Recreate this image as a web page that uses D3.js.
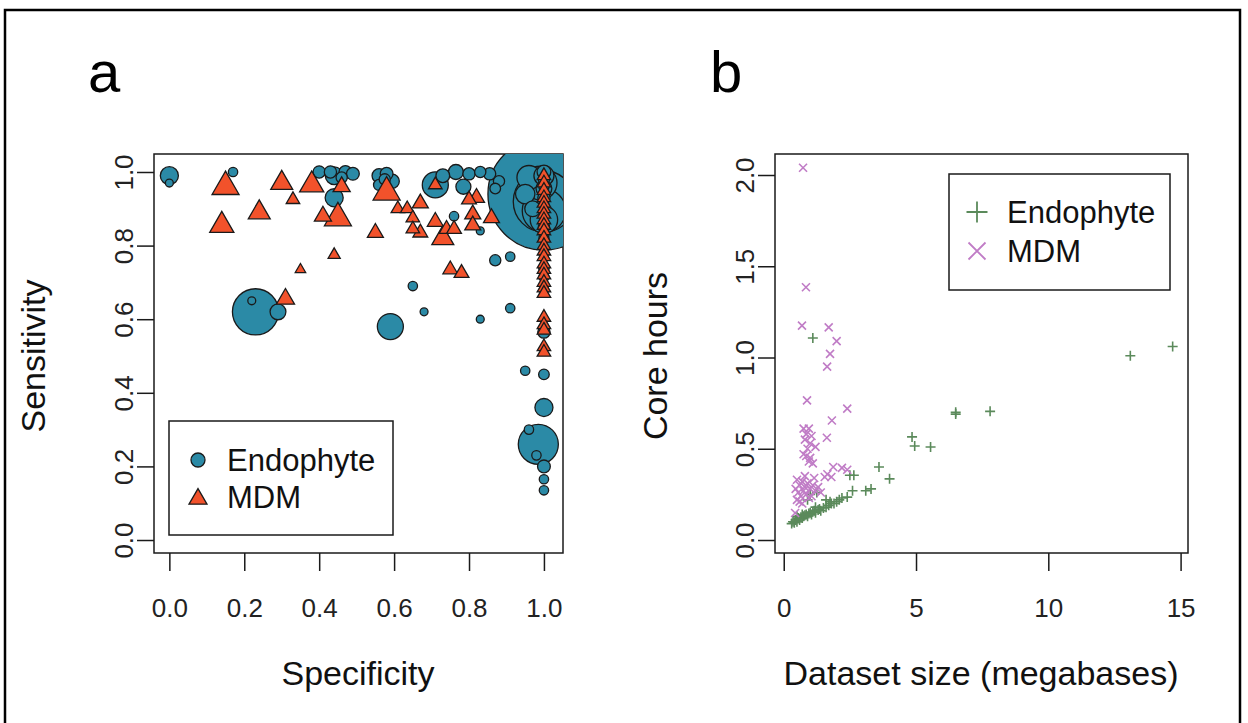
<!DOCTYPE html>
<html>
<head>
<meta charset="utf-8">
<script src="https://cdn.jsdelivr.net/npm/d3@7"></script>
<style>
  body { margin: 0; background: #fff; }
  svg { font-family: "Liberation Sans", Arial, Helvetica, sans-serif; }
</style>
</head>
<body>
<svg id="chart" width="1248" height="723"></svg>
<script>
// panel a: [specificity, sensitivity, weight]
var endoRates = [
  [0.0, 0.99, 2.6], [0.0, 0.97, 0.5], [0.17, 1.0, 0.7],
  [0.40, 1.0, 1.2], [0.43, 1.0, 1.2], [0.44, 0.99, 2.5], [0.47, 1.0, 1.3],
  [0.49, 0.995, 1.3], [0.46, 0.985, 1.0], [0.44, 0.93, 2.6],
  [0.23, 0.62, 17], [0.22, 0.65, 0.5], [0.29, 0.62, 2.0],
  [0.56, 0.99, 1.6], [0.58, 0.995, 1.3], [0.595, 0.975, 1.6], [0.56, 0.965, 1.0], [0.575, 0.98, 1.0],
  [0.71, 0.965, 5.4], [0.73, 0.99, 1.5], [0.765, 1.0, 1.8], [0.785, 0.96, 1.8],
  [0.80, 0.995, 1.2], [0.83, 1.0, 1.0], [0.855, 0.995, 1.2], [0.88, 0.975, 1.0], [0.87, 0.955, 0.9],
  [0.76, 0.88, 0.7], [0.83, 0.84, 0.5], [0.87, 0.76, 1.0], [0.91, 0.77, 0.7],
  [0.65, 0.69, 0.7], [0.68, 0.62, 0.5], [0.59, 0.58, 5.4], [0.83, 0.60, 0.5], [0.91, 0.63, 0.7],
  [0.95, 0.46, 0.7], [1.0, 0.45, 0.9], [1.0, 0.36, 2.6], [0.985, 0.26, 12.8],
  [0.96, 0.30, 0.7], [0.98, 0.23, 0.7], [1.0, 0.20, 1.3], [1.0, 0.165, 0.7], [1.0, 0.135, 0.7],
  [1.0, 0.94, 100], [1.0, 0.92, 30], [1.0, 0.895, 15], [0.99, 0.97, 9], [1.0, 0.87, 6],
  [1.0, 0.99, 3.2], [0.96, 0.985, 4.6], [0.95, 0.94, 3], [1.0, 0.955, 2], [0.97, 0.90, 2],
  [1.0, 1.0, 1.5], [1.0, 0.98, 1.0], [1.0, 0.96, 0.8], [1.0, 0.93, 1.2], [1.0, 0.91, 0.8],
  [1.0, 0.85, 1.0], [1.0, 0.82, 0.8], [1.0, 0.78, 0.7], [1.0, 0.74, 0.9], [1.0, 0.715, 0.8],
  [1.0, 0.68, 0.7], [1.0, 0.565, 1.2]
];
var mdmRates = [
  [0.15, 0.96, 10], [0.14, 0.855, 8], [0.24, 0.89, 6.6], [0.30, 0.97, 6.6],
  [0.33, 0.925, 2.5], [0.38, 0.965, 8], [0.41, 0.88, 4], [0.45, 0.875, 10],
  [0.46, 0.96, 4], [0.44, 0.775, 2], [0.35, 0.735, 1.5], [0.31, 0.655, 4.5],
  [0.58, 0.945, 10], [0.55, 0.835, 3.5], [0.61, 0.90, 2.5], [0.635, 0.90, 2.5],
  [0.67, 0.915, 3.5], [0.65, 0.875, 2.5], [0.65, 0.845, 2.5], [0.67, 0.835, 3],
  [0.71, 0.865, 3.5], [0.74, 0.845, 3], [0.76, 0.845, 3], [0.73, 0.82, 6.6],
  [0.71, 0.965, 2.5], [0.80, 0.925, 3], [0.82, 0.93, 3.5], [0.81, 0.885, 3.5],
  [0.81, 0.855, 3.5], [0.86, 0.875, 3.5], [0.75, 0.735, 3], [0.78, 0.725, 3],
  [1.0, 0.99, 2.5], [1.0, 0.97, 2.5], [1.0, 0.95, 2.5], [1.0, 0.93, 2.5], [1.0, 0.915, 2.5],
  [1.0, 0.90, 2.5], [1.0, 0.885, 2.5], [1.0, 0.87, 2.5], [1.0, 0.855, 2.5], [1.0, 0.84, 2.5],
  [1.0, 0.82, 2.5], [1.0, 0.80, 2.5], [1.0, 0.785, 2.5], [1.0, 0.77, 2.5], [1.0, 0.75, 2.5],
  [1.0, 0.735, 2.5], [1.0, 0.72, 2.5], [1.0, 0.70, 2.5], [1.0, 0.685, 2.5], [1.0, 0.67, 2.5],
  [1.0, 0.605, 2.5], [1.0, 0.585, 2.5], [1.0, 0.57, 2.5], [1.0, 0.525, 2.5], [1.0, 0.51, 2.5]
];

// panel b: [dataset size (Mb), core hours]
var endoHours = [
  [14.7, 1.06], [13.1, 1.01], [7.8, 0.705], [6.5, 0.69], [6.5, 0.70],
  [4.85, 0.565], [4.95, 0.515], [5.55, 0.51], [3.6, 0.40], [4.0, 0.335],
  [2.5, 0.355], [2.65, 0.355], [2.6, 0.27], [3.1, 0.27], [3.3, 0.28], [2.4, 0.235], [1.1, 1.107],
  [0.3, 0.09], [0.35, 0.10], [0.4, 0.095], [0.45, 0.11], [0.5, 0.10], [0.55, 0.12], [0.6, 0.11],
  [0.65, 0.125], [0.7, 0.12], [0.75, 0.13], [0.8, 0.135], [0.85, 0.14], [0.9, 0.13], [0.95, 0.145],
  [1.0, 0.15], [1.05, 0.14], [1.1, 0.155], [1.15, 0.16], [1.2, 0.15], [1.3, 0.165], [1.35, 0.17],
  [1.4, 0.16], [1.5, 0.175], [1.6, 0.18], [1.7, 0.19], [1.8, 0.2], [1.9, 0.2], [2.0, 0.21],
  [2.1, 0.22], [1.25, 0.26], [1.0, 0.25], [0.9, 0.22], [1.6, 0.22], [1.75, 0.21], [2.2, 0.23],
  [0.5, 0.13], [0.7, 0.14], [1.2, 0.18]
];
var mdmHours = [
  [0.73, 2.04], [0.84, 1.385], [0.69, 1.175], [1.7, 1.165], [2.0, 1.09], [1.75, 1.02],
  [1.64, 0.95], [0.88, 0.765], [2.4, 0.72], [1.82, 0.655], [1.63, 0.56],
  [0.75, 0.61], [0.95, 0.61], [0.85, 0.58], [1.05, 0.57], [0.8, 0.55], [1.0, 0.53], [0.9, 0.50],
  [1.2, 0.51], [0.75, 0.47], [0.85, 0.46], [1.0, 0.45], [0.95, 0.43], [1.1, 0.42],
  [1.87, 0.40], [2.2, 0.395], [2.4, 0.385], [1.55, 0.345], [1.8, 0.345], [1.65, 0.36],
  [0.5, 0.33], [0.6, 0.30], [0.7, 0.32], [0.8, 0.29], [0.9, 0.31], [1.0, 0.28], [1.1, 0.30],
  [1.2, 0.27], [1.3, 0.29], [0.55, 0.26], [0.65, 0.24], [0.75, 0.27], [0.85, 0.25], [0.95, 0.23],
  [0.6, 0.21], [0.7, 0.20], [1.05, 0.24], [1.4, 0.26], [0.45, 0.28], [0.5, 0.22], [0.43, 0.148],
  [0.8, 0.35], [1.15, 0.34]
];

var rateTicks = [0, 0.2, 0.4, 0.6, 0.8, 1.0];
var sizeTicks = [0, 5, 10, 15];
var hourTicks = [0, 0.5, 1.0, 1.5, 2.0];
var seriesNames = ["Endophyte", "MDM"];

var blue = "#2b8aa6", red = "#f2522b", green = "#5b8a5b", purple = "#c07cc6", ink = "#1a1a1a";

var svg = d3.select("#chart");

// outer frame
svg.append("rect").attr("x", 5).attr("y", 10).attr("width", 1235).attr("height", 740)
  .attr("fill", "none").attr("stroke", "#000").attr("stroke-width", 2.5);

function frame(g, x, y, xt, yt, xfmt, yfmt) {
  var r = x.range(), b = y.range();
  g.append("rect").attr("x", r[0]).attr("y", b[1]).attr("width", r[1] - r[0]).attr("height", b[0] - b[1])
    .attr("fill", "none").attr("stroke", ink).attr("stroke-width", 1.5);
  var ax = g.append("g").attr("transform", "translate(0," + b[0] + ")")
    .call(d3.axisBottom(x).tickValues(xt).tickSize(18).tickPadding(21).tickFormat(xfmt));
  var ay = g.append("g").attr("transform", "translate(" + r[0] + ",0)")
    .call(d3.axisLeft(y).tickValues(yt).tickSize(17).tickFormat(yfmt));
  [ax, ay].forEach(function(a) {
    a.select(".domain").remove();
    a.selectAll("line").attr("stroke", ink).attr("stroke-width", 1.5);
    a.selectAll("text").attr("fill", "#222").style("font-size", "26px").style("font-family", null);
  });
  ax.selectAll("text").attr("dy", "0.95em");
  ay.selectAll("text").attr("x", null).attr("dy", null)
    .attr("transform", "translate(-21,0) rotate(-90)")
    .attr("text-anchor", "middle");
}

function title(x, y, txt, rot) {
  svg.append("text").attr("transform", "translate(" + x + "," + y + ")" + (rot ? " rotate(-90)" : ""))
    .attr("text-anchor", "middle").style("font-size", "34px").attr("fill", "#111").text(txt);
}

// ---------- panel a ----------
var xa = d3.scaleLinear().domain([-0.041, 1.0509]).range([154, 563]);
var ya = d3.scaleLinear().domain([-0.0353, 1.0489]).range([553, 154]);
var ga = svg.append("g");
frame(ga, xa, ya, rateTicks, rateTicks, d3.format(".1f"), d3.format(".1f"));

var rCircle = d3.scaleSqrt().domain([0, 100]).range([0, 56]);
var hTri = d3.scaleSqrt().domain([0, 10]).range([0, 13.5]);
var tri = function(h) { return d3.symbol(d3.symbolTriangle, Math.sqrt(3) * h * h)(); };

ga.append("clipPath").attr("id", "clipa").append("rect")
  .attr("x", 154).attr("y", 154).attr("width", 409).attr("height", 399);
var pa = ga.append("g").attr("clip-path", "url(#clipa)");

pa.selectAll("circle").data(endoRates.slice().sort(function(a, b) { return b[2] - a[2]; }))
  .enter().append("circle")
  .attr("cx", function(d) { return xa(d[0]); })
  .attr("cy", function(d) { return ya(d[1]); })
  .attr("r", function(d) { return rCircle(d[2]); })
  .attr("fill", blue).attr("stroke", ink).attr("stroke-width", 1.3);

pa.selectAll("path.tri").data(mdmRates.slice().sort(function(a, b) { return b[2] - a[2]; }))
  .enter().append("path").attr("class", "tri")
  .attr("transform", function(d) { return "translate(" + xa(d[0]) + "," + ya(d[1]) + ")"; })
  .attr("d", function(d) { return tri(hTri(d[2])); })
  .attr("fill", red).attr("stroke", ink).attr("stroke-width", 1.3);

// legend a
ga.append("rect").attr("x", 169).attr("y", 421).attr("width", 224).attr("height", 114)
  .attr("fill", "#fff").attr("stroke", ink).attr("stroke-width", 1.5);
ga.append("circle").attr("cx", 198).attr("cy", 460).attr("r", 7)
  .attr("fill", blue).attr("stroke", ink).attr("stroke-width", 1.3);
ga.append("path").attr("transform", "translate(198,499)").attr("d", tri(9))
  .attr("fill", red).attr("stroke", ink).attr("stroke-width", 1.3);
ga.selectAll("text.leg").data(seriesNames).enter().append("text").attr("class", "leg")
  .attr("x", 227).attr("y", function(d, i) { return 471 + i * 37; })
  .style("font-size", "31px").attr("fill", "#111").text(function(d) { return d; });

title(358, 685, "Specificity", false);
title(45, 356, "Sensitivity", true);
svg.append("text").attr("x", 88).attr("y", 92).style("font-size", "58px").text("a");

// ---------- panel b ----------
var xb = d3.scaleLinear().domain([-0.33, 15.28]).range([775, 1188]);
var yb = d3.scaleLinear().domain([-0.0712, 2.1151]).range([553, 154]);
var gb = svg.append("g");
frame(gb, xb, yb, sizeTicks, hourTicks, d3.format("d"), d3.format(".1f"));

var plus = function(h) { return "M" + (-h) + ",0H" + h + "M0," + (-h) + "V" + h; };
var cross = function(h) { return "M" + (-h) + "," + (-h) + "L" + h + "," + h + "M" + (-h) + "," + h + "L" + h + "," + (-h); };

gb.selectAll("path.plus").data(endoHours).enter().append("path").attr("class", "plus")
  .attr("transform", function(d) { return "translate(" + xb(d[0]) + "," + yb(d[1]) + ")"; })
  .attr("d", plus(5)).attr("stroke", green).attr("stroke-width", 1.6).attr("fill", "none");
gb.selectAll("path.cross").data(mdmHours).enter().append("path").attr("class", "cross")
  .attr("transform", function(d) { return "translate(" + xb(d[0]) + "," + yb(d[1]) + ")"; })
  .attr("d", cross(4)).attr("stroke", purple).attr("stroke-width", 1.6).attr("fill", "none");

// legend b
gb.append("rect").attr("x", 949).attr("y", 174).attr("width", 221).attr("height", 116)
  .attr("fill", "#fff").attr("stroke", ink).attr("stroke-width", 1.5);
gb.append("path").attr("transform", "translate(977,212)").attr("d", plus(10.5))
  .attr("stroke", green).attr("stroke-width", 1.8).attr("fill", "none");
gb.append("path").attr("transform", "translate(977,251)").attr("d", cross(8.5))
  .attr("stroke", purple).attr("stroke-width", 1.8).attr("fill", "none");
gb.selectAll("text.leg").data(seriesNames).enter().append("text").attr("class", "leg")
  .attr("x", 1007).attr("y", function(d, i) { return 223 + i * 39; })
  .style("font-size", "31px").attr("fill", "#111").text(function(d) { return d; });

title(981, 685, "Dataset size (megabases)", false);
title(667, 356, "Core hours", true);
svg.append("text").attr("x", 710).attr("y", 92).style("font-size", "58px").text("b");
</script>
</body>
</html>
